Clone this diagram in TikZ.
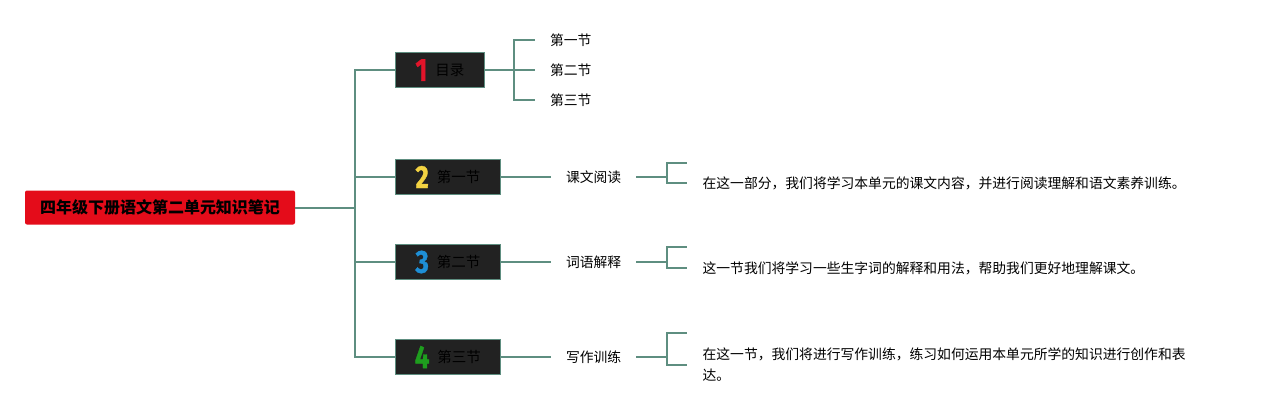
\documentclass[tikz,border=0pt]{standalone}
\usepackage{fontspec}
\setmainfont{Noto Sans CJK SC}
\newfontfamily\numfont{Fira Sans}[BoldFeatures={FakeBold=1.2}]
\usepackage{graphicx}
\usepackage{xcolor}
\usetikzlibrary{positioning}
\definecolor{linkteal}{RGB}{94,142,128}
\definecolor{rootred}{RGB}{228,12,26}
\definecolor{boxdark}{RGB}{34,34,34}
\definecolor{numred}{RGB}{226,20,42}
\definecolor{numyellow}{RGB}{243,211,66}
\definecolor{numblue}{RGB}{30,143,214}
\definecolor{numgreen}{RGB}{30,158,30}
\newcommand{\secnum}[2]{\raisebox{-5.5pt}{\numfont\bfseries\fontsize{32pt}{32pt}\selectfont\color{#1}\scalebox{0.8}[1]{#2}}}
\tikzstyle{root} = [rectangle, rounded corners=2pt, minimum width=270pt, minimum height=34pt, fill=rootred, text=black, font=\fontsize{16pt}{20pt}\selectfont\bfseries]
\tikzstyle{section} = [rectangle, minimum height=34.5pt, inner sep=0pt, draw=linkteal, line width=0.8pt, fill=boxdark, text=black, font=\fontsize{14.5pt}{17pt}\selectfont, anchor=west]
\tikzstyle{leaf} = [inner xsep=15pt, inner ysep=2pt, align=left, font=\fontsize{13.8pt}{21.7pt}\selectfont]
\tikzstyle{link} = [line width=2pt, draw=linkteal]

\begin{document}
\begin{tikzpicture}[x=1pt, y=-1pt, node distance=50pt]
\fill[white] (0,0) rectangle (1261,413);
\useasboundingbox (0,0) rectangle (1261,413);

% Root topic
\node (root) [root] at (160,207.5) {四年级下册语文第二单元知识笔记};

% Sections
\node (toc) [section, minimum width=89pt] at (395,70) {\secnum{numred}{1}\hspace{8pt}目录};
\node (part1) [section, minimum width=105pt] at (395,177) {\secnum{numyellow}{2}\hspace{8pt}第一节};
\node (part2) [section, minimum width=105pt] at (395,262) {\secnum{numblue}{3}\hspace{8pt}第二节};
\node (part3) [section, minimum width=105pt] at (395,357) {\secnum{numgreen}{4}\hspace{8pt}第三节};

% Trunk from root to sections
\draw [link] (root.east) -- ++(60,0) coordinate (hub);
\draw [link] (hub) |- (toc.west);
\draw [link] (hub) |- (part1.west);
\draw [link] (hub) |- (part2.west);
\draw [link] (hub) |- (part3.west);

% Table of contents
\draw [link] (toc.east) -- ++(29,0) coordinate (tocfork);
\node (toc1) [leaf, right=21pt of tocfork, yshift=30pt] {第一节};
\node (toc2) [leaf, right=21pt of tocfork] {第二节};
\node (toc3) [leaf, right=21pt of tocfork, yshift=-30pt] {第三节};
\draw [link] (tocfork) |- (toc1.west);
\draw [link] (tocfork) -- (toc2.west);
\draw [link] (tocfork) |- (toc3.west);

% Section topics
\node (read) [leaf, right=of part1] {课文阅读};
\node (words) [leaf, right=of part2] {词语解释};
\node (write) [leaf, right=of part3] {写作训练};
\draw [link] (part1) -- (read);
\draw [link] (part2) -- (words);
\draw [link] (part3) -- (write);

% Notes - empty upper branch, text on lower branch
\draw [link] (read.east) -- ++(31,0) coordinate (readfork);
\coordinate [above right=14.5pt and 20pt of readfork] (readtip);
\node (readnote) [leaf, right=20pt of readfork, yshift=-6pt] {在这一部分，我们将学习本单元的课文内容，并进行阅读理解和语文素养训练。};
\draw [link] (readfork) |- (readtip);
\draw [link] (readfork) |- (readnote.west);

\draw [link] (words.east) -- ++(31,0) coordinate (wordsfork);
\coordinate [above right=15pt and 20pt of wordsfork] (wordstip);
\node (wordsnote) [leaf, right=20pt of wordsfork, yshift=-6pt] {这一节我们将学习一些生字词的解释和用法，帮助我们更好地理解课文。};
\draw [link] (wordsfork) |- (wordstip);
\draw [link] (wordsfork) |- (wordsnote.west);

\draw [link] (write.east) -- ++(31,0) coordinate (writefork);
\coordinate [above right=24pt and 20pt of writefork] (writetip);
\node (writenote) [leaf, right=20pt of writefork, yshift=-7.5pt] {在这一节，我们将进行写作训练，练习如何运用本单元所学的知识进行创作和表\\达。};
\draw [link] (writefork) |- (writetip);
\draw [link] (writefork) |- (writenote.west);

\end{tikzpicture}
\end{document}
